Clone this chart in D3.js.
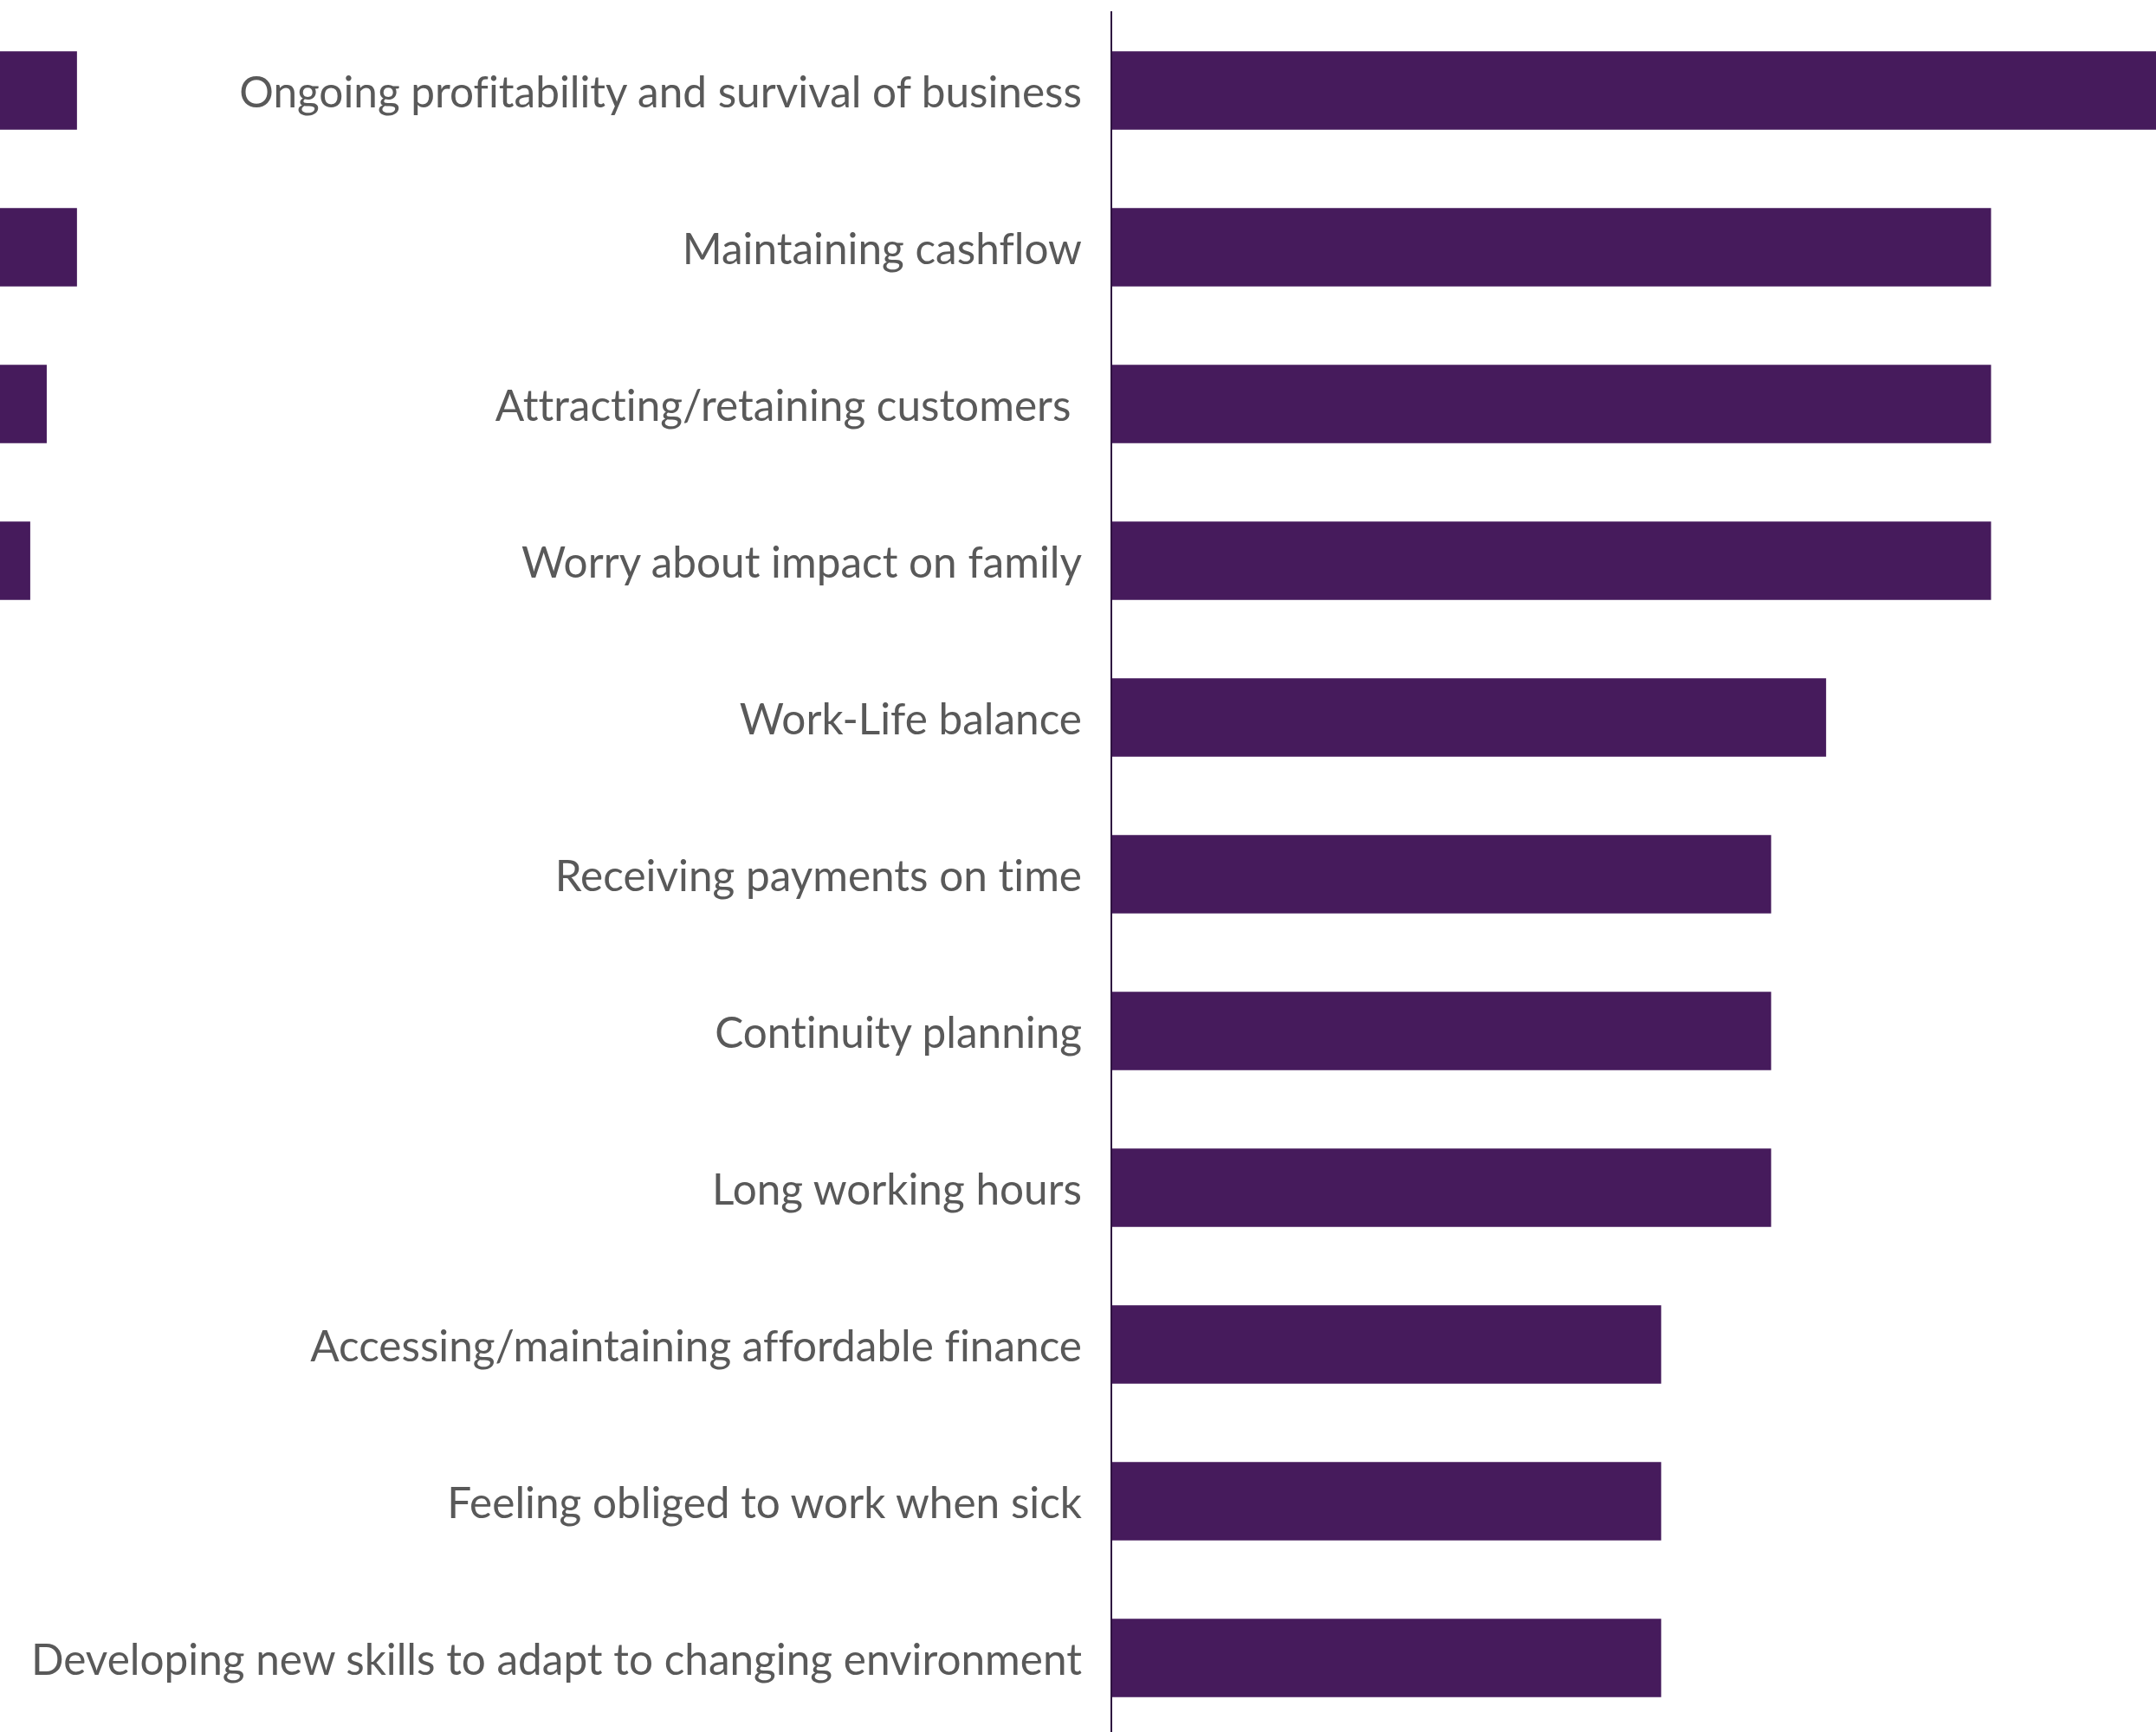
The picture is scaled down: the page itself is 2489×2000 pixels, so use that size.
<!DOCTYPE html>
<html><head><meta http-equiv="Content-Type" content="text/html; charset=UTF-8">
<script src="https://cdn.jsdelivr.net/npm/d3@7"></script>
<style>
  body { margin: 0; background: #fff; }
  svg text { font-family: Lato, "Open Sans", sans-serif; white-space: pre; font-variant-ligatures: none; font-feature-settings: "liga" 0, "clig" 0; }
</style>
</head>
<body>
<div id="body"></div>
<script type="text/javascript">

var categories = [
    "Ongoing profitability and survival of business",
    "Maintaining cashflow",
    "Attracting/retaining customers ",
    "Worry about impact on family",
    "Work-Life balance",
    "Receiving payments on time",
    "Continuity planning",
    "Long working hours",
    "Accessing/maintaining affordable finance",
    "Feeling obliged to work when sick",
    "Developing new skills to adapt to changing environment"
];
var values = [19, 16, 16, 16, 13, 12, 12, 12, 10, 10, 10];

// cut-off ends of bars poking in at the left edge (same units)
var leftTails = [1.4, 1.4, 0.85, 0.55];

var w = 2489,
    h = 2000,
    axis_x = 1283,
    bar_color = "#461b5c",
    text_color = "#595959";

var svg = d3.select("#body").append("svg")
    .attr("width", w)
    .attr("height", h);

var x = d3.scaleLinear()
    .domain([0, 19])
    .range([axis_x, w]);

var y = d3.scaleBand()
    .domain(categories)
    .range([14, 2005])
    .paddingInner(0.5)
    .paddingOuter(0.25);

svg.selectAll(".bar")
    .data(categories)
    .enter().append("rect")
    .attr("class", "bar")
    .attr("x", x(0))
    .attr("y", function(d) { return y(d); })
    .attr("width", function(d, i) { return x(values[i]) - x(0); })
    .attr("height", y.bandwidth())
    .style("fill", bar_color);

svg.selectAll(".tail")
    .data(leftTails)
    .enter().append("rect")
    .attr("class", "tail")
    .attr("x", 0)
    .attr("y", function(d, i) { return y(categories[i]); })
    .attr("width", function(d) { return x(d) - x(0); })
    .attr("height", y.bandwidth())
    .style("fill", bar_color);

svg.append("line")
    .attr("x1", axis_x).attr("x2", axis_x)
    .attr("y1", 13).attr("y2", h)
    .style("stroke", "#2e1240")
    .style("stroke-width", 2);

svg.selectAll(".label")
    .data(categories)
    .enter().append("text")
    .attr("class", "label")
    .attr("x", axis_x - 34)
    .attr("y", function(d) { return y(d) + y.bandwidth() / 2; })
    .attr("dy", "0.4em")
    .style("text-anchor", "end")
    .style("font-size", "49.5px")
    .style("fill", text_color)
    .text(function(d) { return d; });

</script>
</body></html>
